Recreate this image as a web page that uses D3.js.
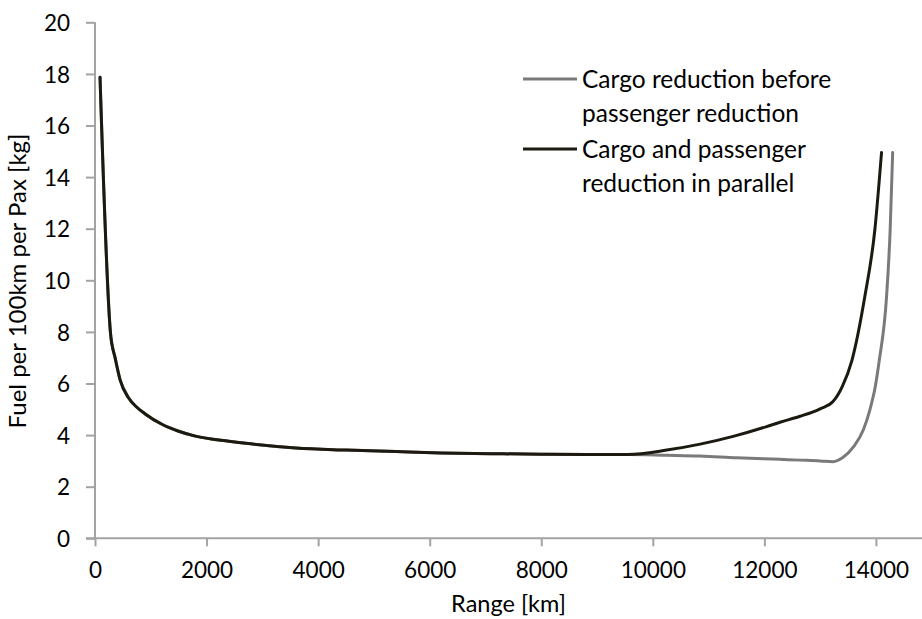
<!DOCTYPE html>
<html>
<head>
<meta charset="utf-8">
<script src="https://cdn.jsdelivr.net/npm/d3@7"></script>
<style>
  html, body { margin: 0; padding: 0; background: #fff; }
  svg { display: block; }
  text { font-family: Lato, "Open Sans", sans-serif; fill: #000; }
</style>
</head>
<body>
<svg id="chart" width="922" height="619"></svg>
<script>
// Range [km] and fuel per 100 km per passenger [kg]
const cargoFirstRange = [90, 280, 360, 450, 600, 750, 900, 1200, 1500, 1800, 2400, 2700, 3600, 4500, 5400, 6200, 7100, 8000, 8800, 9550,
  10250, 10850, 11500, 12280, 12640, 13000, 13230, 13400, 13600, 13773, 13894, 13990, 14060, 14190, 14255, 14300];
const cargoFirstFuel = [17.87, 7.9, 7.0, 6.14, 5.45, 5.08, 4.82, 4.42, 4.15, 3.96, 3.76, 3.68, 3.5, 3.42, 3.36, 3.31, 3.28, 3.26, 3.25, 3.25,
  3.22, 3.19, 3.12, 3.06, 3.03, 3.0, 2.97, 3.12, 3.55, 4.2, 5.0, 5.9, 6.9, 9.36, 11.95, 14.95];

const parallelRange = [90, 280, 360, 450, 600, 750, 900, 1200, 1500, 1800, 2400, 2700, 3600, 4500, 5400, 6200, 7100, 8000, 8800, 9550,
  10250, 10850, 11440, 12040, 12280, 12640, 13000, 13230, 13400, 13570, 13800, 13980, 14100];
const parallelFuel = [17.87, 7.9, 7.0, 6.14, 5.45, 5.08, 4.82, 4.42, 4.15, 3.96, 3.76, 3.68, 3.5, 3.42, 3.36, 3.31, 3.28, 3.26, 3.25, 3.25,
  3.42, 3.65, 3.95, 4.33, 4.5, 4.73, 5.02, 5.3, 5.9, 6.9, 9.36, 11.95, 14.95];

const seriesNames = ["Cargo reduction before passenger reduction", "Cargo and passenger reduction in parallel"];
const legendLines = [["Cargo reduction before", "passenger reduction"], ["Cargo and passenger", "reduction in parallel"]];
const seriesColors = ["#7a7a7a", "#1c1a10"];

const xTicks = [0, 2000, 4000, 6000, 8000, 10000, 12000, 14000];
const yTicks = [0, 2, 4, 6, 8, 10, 12, 14, 16, 18, 20];

const svg = d3.select("#chart");
const x = d3.scaleLinear().domain([0, 16000]).range([95, 987.5]);
const y = d3.scaleLinear().domain([0, 20]).range([538.3, 22.3]);
const axisColor = "#a3a3a3";

// y axis
const yAxis = svg.append("g")
  .attr("transform", `translate(${x(0)},0)`)
  .call(d3.axisLeft(y).tickValues(yTicks).tickSize(9).tickPadding(16).tickFormat(d3.format("d")));
yAxis.select(".domain").attr("stroke", axisColor).attr("stroke-width", 2).attr("d", `M0,${y(20)}V${y(0)}`);
yAxis.selectAll(".tick line").attr("stroke", axisColor).attr("stroke-width", 2);
yAxis.selectAll(".tick text").style("font-size", "22.5px").attr("dy", "0.36em");

// x axis
const xAxis = svg.append("g")
  .attr("transform", `translate(0,${y(0)})`)
  .call(d3.axisBottom(x).tickValues(xTicks).tickSize(8).tickPadding(16).tickFormat(d3.format("d")));
xAxis.select(".domain").attr("stroke", axisColor).attr("stroke-width", 2).attr("d", `M${x(0) - 9},0H922`);
xAxis.selectAll(".tick line").attr("stroke", axisColor).attr("stroke-width", 2);
xAxis.selectAll(".tick text").style("font-size", "22.5px");

// axis titles
svg.append("text")
  .attr("x", (x(0) + 922) / 2).attr("y", 606)
  .attr("text-anchor", "middle").attr("dominant-baseline", "middle")
  .style("font-size", "23.5px").text("Range [km]");
svg.append("text")
  .attr("transform", `translate(20,281) rotate(-90)`)
  .attr("text-anchor", "middle").attr("dominant-baseline", "middle")
  .style("font-size", "24px").text("Fuel per 100km per Pax [kg]");

// series lines
const line = d3.line().x(d => x(d[0])).y(d => y(d[1])).curve(d3.curveMonotoneX);
const series = [
  d3.zip(cargoFirstRange, cargoFirstFuel),
  d3.zip(parallelRange, parallelFuel)
];
svg.append("g").selectAll("path")
  .data(series)
  .join("path")
  .attr("d", line)
  .attr("fill", "none")
  .attr("stroke", (d, i) => seriesColors[i])
  .attr("stroke-width", 3)
  .attr("stroke-linejoin", "round")
  .attr("stroke-linecap", "round");

// legend
const legend = svg.append("g").attr("transform", "translate(523,79)");
const entry = legend.selectAll("g")
  .data(seriesNames)
  .join("g")
  .attr("transform", (d, i) => `translate(0,${i * 70})`);
entry.append("line")
  .attr("x1", 0).attr("x2", 54).attr("y1", 0).attr("y2", 0)
  .attr("stroke", (d, i) => seriesColors[i]).attr("stroke-width", 3);
entry.each(function(d, i) {
  const t = d3.select(this).append("text")
    .attr("x", 59).attr("y", 0)
    .style("font-size", "24.5px");
  legendLines[i].forEach((s, k) => {
    t.append("tspan").attr("x", 59).attr("y", k * 34).attr("dy", "0.35em").text(s);
  });
});
</script>
</body>
</html>
